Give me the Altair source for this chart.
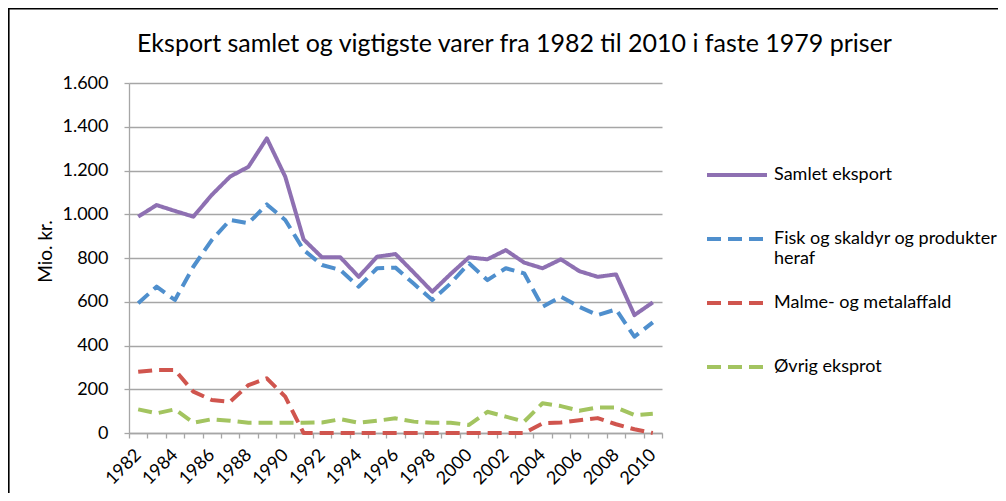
import altair as alt
import pandas as pd

years = list(range(1982, 2011))
samlet = [989, 1042, 1015, 989, 1088, 1172, 1217, 1347, 1172, 885, 803, 803, 714, 806,
          818, 733, 646, 727, 803, 794, 836, 779, 753, 794, 740, 714, 725, 539, 597]
fisk = [593, 669, 608, 760, 882, 974, 959, 1045, 974, 837, 768, 745, 669, 753,
        756, 682, 608, 684, 776, 699, 753, 730, 577, 623, 577, 539, 565, 440, 506]
malme = [280, 288, 288, 189, 151, 143, 219, 250, 166, 0, 0, 0, 0, 0,
         0, 0, 0, 0, 0, 0, 0, 0, 44, 48, 58, 68, 40, 17, 0]
ovrig = [108, 90, 108, 47, 63, 56, 47, 47, 47, 47, 48, 63, 47, 56,
         67, 52, 47, 47, 37, 97, 75, 52, 136, 123, 102, 117, 117, 82, 88]

series_names = ["Samlet eksport", "Fisk og skaldyr og produkter heraf",
                "Malme- og metalaffald", "Øvrig eksprot"]
series_values = [samlet, fisk, malme, ovrig]
colors = ["#8E70B2", "#4F8FCD", "#D0554E", "#A3C460"]
dashes = [[1, 0], [14, 7], [14, 7], [14, 7]]
y_ticks = [0, 200, 400, 600, 800, 1000, 1200, 1400, 1600]
title_text = "Eksport samlet og vigtigste varer fra 1982 til 2010 i faste 1979 priser"

rows = []
for name, vals in zip(series_names, series_values):
    for yr, v in zip(years, vals):
        rows.append({"year": yr, "value": v, "serie": name})
df = pd.DataFrame(rows)

FONT = "Lato"
tick_vals = [y - 0.5 for y in years] + [years[-1] + 0.5]

legend = alt.Legend(
    orient="none", legendX=576, legendY=60, title=None,
    symbolType="stroke", symbolSize=3600, symbolStrokeWidth=4,
    labelFontSize=18, labelFont=FONT, labelColor="black", labelOffset=5,
    rowPadding=3, padding=0, labelLimit=400,
    labelExpr="datum.label == 'Fisk og skaldyr og produkter heraf' ? ['Fisk og skaldyr og produkter', 'heraf'] : [datum.label, ' ']",
)

lines = alt.Chart(df).mark_line(strokeWidth=4, strokeJoin="round").encode(
    x=alt.X("year:Q",
            scale=alt.Scale(domain=[1981.5, 2010.5], nice=False, zero=False),
            axis=alt.Axis(values=tick_vals, grid=False, title=None,
                          labelExpr="(datum.value + 0.5) % 2 == 0 && datum.value < 2010 ? format(datum.value + 0.5, 'd') : ''",
                          labelAngle=-45, labelAlign="right", labelBaseline="middle",
                          labelOffset=9.2, labelPadding=14, labelOverlap=False, labelBound=False,
                          labelFontSize=18, labelFont=FONT, labelColor="black",
                          tickSize=5, tickColor="#A6A6A6", tickWidth=1.3,
                          domainColor="#A6A6A6", domainWidth=1.3)),
    y=alt.Y("value:Q",
            scale=alt.Scale(domain=[0, 1600], nice=False),
            axis=alt.Axis(values=y_ticks, title="Mio. kr.",
                          labelExpr="replace(format(datum.value, ','), ',', '.')",
                          labelFontSize=18, labelFont=FONT, labelColor="black", labelPadding=16,
                          tickSize=5, tickColor="#A6A6A6", tickWidth=1.3,
                          gridColor="#A6A6A6", gridWidth=1.3,
                          domainColor="#A6A6A6", domainWidth=1.3,
                          titleFontSize=19, titleFont=FONT, titleFontWeight="normal",
                          titleColor="black", titleX=-84, titleY=168,
                          titleBaseline="middle")),
    color=alt.Color("serie:N", scale=alt.Scale(domain=series_names, range=colors), legend=legend),
    strokeDash=alt.StrokeDash("serie:N", scale=alt.Scale(domain=series_names, range=dashes), legend=legend),
    order=alt.Order("year:Q"),
)

frame = alt.Chart(pd.DataFrame({"a": [0]})).mark_rect(
    filled=False, stroke="black", strokeWidth=1.6, clip=False
).encode(
    x=alt.value(-120.2), y=alt.value(-74.2), x2=alt.value(1400), y2=alt.value(900)
)

chart = alt.layer(lines, frame).properties(
    width=533, height=350,
    padding={"left": 121, "top": 75, "right": 336, "bottom": 60},
    autosize=alt.AutoSizeParams(type="none"),
    title=alt.TitleParams(title_text, fontSize=25, font=FONT, fontWeight="normal",
                          color="black", anchor="middle", dx=119, offset=26, dy=75),
).configure_view(stroke=None)

chart.save("out.html", embed_options={"renderer": "svg", "actions": False})
